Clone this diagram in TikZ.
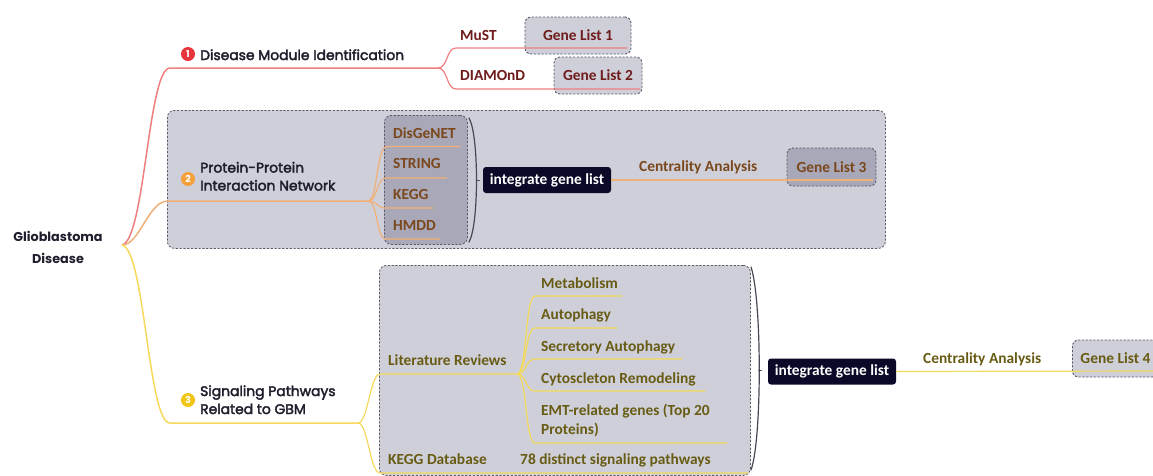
\documentclass[tikz,border=0pt]{standalone}
\usepackage{fontspec}
\setmainfont{Carlito}
\newfontfamily\topicfam[FakeBold=2.6]{Poppins}
\newfontfamily\rootfam{Poppins}
\usetikzlibrary{calc}

\definecolor{redln}{RGB}{240,128,128}
\definecolor{orgln}{RGB}{241,176,120}
\definecolor{yelln}{RGB}{246,218,92}
\definecolor{grpfill}{RGB}{206,207,217}
\definecolor{darkfill}{RGB}{168,168,184}
\definecolor{boxedge}{RGB}{90,90,105}
\definecolor{navyfill}{RGB}{10,10,40}
\definecolor{maroontxt}{RGB}{110,28,28}
\definecolor{browntxt}{RGB}{122,72,28}
\definecolor{olivetxt}{RGB}{104,92,20}
\definecolor{inktxt}{RGB}{30,30,45}
\definecolor{badgered}{RGB}{232,52,60}
\definecolor{badgeorg}{RGB}{245,160,58}
\definecolor{badgeyel}{RGB}{242,196,20}

\newcommand\mmleaf{\bfseries\fontsize{15.4}{19}\selectfont}
\newcommand\mmtopic{\topicfam\fontsize{13.9}{18}\selectfont}
\newcommand\mmroot{\rootfam\bfseries\fontsize{12.8}{21.5}\selectfont}

\begin{document}
\begin{tikzpicture}[x=1pt,y=-1pt,
  grp/.style={draw=boxedge, line width=0.8pt, dash pattern=on 2.2pt off 1.6pt,
    rounded corners=7pt, fill=grpfill, inner sep=0pt, anchor=north west},
  genebox/.style={draw=boxedge, line width=0.9pt, dash pattern=on 2.2pt off 1.6pt,
    rounded corners=6pt, inner sep=0pt, font=\mmleaf},
  intg/.style={fill=navyfill, rounded corners=3pt, text=white, font=\mmleaf,
    inner sep=0pt, minimum width=128pt, minimum height=26pt},
  badge/.style={circle, inner sep=0pt, minimum size=14pt, text=white,
    font=\rootfam\bfseries\fontsize{9.5}{9.5}\selectfont},
  leaf/.style={inner sep=0pt, anchor=base west, font=\mmleaf},
  topic/.style={inner sep=0pt, anchor=base west, font=\mmtopic, text=inktxt},
  redl/.style={draw=redln, line width=1.5pt},
  orgl/.style={draw=orgln, line width=1.5pt},
  yell/.style={draw=yelln, line width=1.5pt},
  brk/.style={draw=boxedge!80!black, line width=1.2pt, line cap=round},
]
\useasboundingbox (0,0) rectangle (1153,475);
\clip (0,0) rectangle (1153,475);
\fill[white] (0,0) rectangle (1153,475);

% group panels
\node[grp, minimum width=718pt, minimum height=138pt] (grpB) at (167,110) {};
\node[grp, minimum width=371pt, minimum height=210pt] (grpC) at (379,265) {};
\node[grp, fill=darkfill, minimum width=83pt, minimum height=129pt] (srcbox) at (384,115) {};

% gene list boxes
\node[genebox, fill=grpfill, text=maroontxt, minimum width=106pt, minimum height=37pt] (gl1) at (578,35.5) {Gene List 1};
\node[genebox, fill=grpfill, text=maroontxt, minimum width=88pt, minimum height=37pt] (gl2) at (598,75.5) {Gene List 2};
\node[genebox, fill=darkfill, text=browntxt, minimum width=89pt, minimum height=38pt] (gl3) at (831.5,167) {Gene List 3};
\node[genebox, fill=grpfill, text=olivetxt, minimum width=86pt, minimum height=37pt, anchor=west] (gl4) at (1072,358.5) {Gene List 4};

% integration boxes
\node[intg] (ig1) at (547,180) {integrate gene list};
\node[intg] (ig2) at (832,371.5) {integrate gene list};

% brackets
\coordinate (bk1a) at (469,118);
\coordinate (bk1b) at (469,242);
\coordinate (bk1t) at (476.5,180);
\draw[brk] (bk1a) .. controls (479,135) and (479,225) .. (bk1b);
\draw[brk, line width=0.9pt] (bk1t) -- ++(3,0);
\coordinate (bk2a) at (751,267);
\coordinate (bk2b) at (751,470);
\coordinate (bk2t) at (758.5,370);
\draw[brk] (bk2a) .. controls (762,300) and (762,440) .. (bk2b);
\draw[brk, line width=0.9pt] (bk2t) -- ++(3,0);

% branch hub
\coordinate (hub) at (122,245);

% branch 1
\coordinate (r0) at (170,68);
\coordinate (rf) at (438,68);
\coordinate (mustA) at (456,48);
\coordinate (mustB) at (627,48);
\coordinate (diaA) at (456,89);
\coordinate (diaB) at (640,89);
\draw[redl] (hub) .. controls (145,240) and (148,68) .. (r0) -- (rf);
\draw[redl, line width=1.2pt] (rf) .. controls (448,68) and (446,48) .. (mustA) -- (mustB);
\draw[redl, line width=1.2pt] (rf) .. controls (448,68) and (446,89) .. (diaA) -- (diaB);

% branch 2
\coordinate (o0) at (168,201);
\coordinate (of) at (368,201);
\coordinate (disA) at (387,146.5);
\coordinate (disB) at (460,146.5);
\coordinate (strA) at (386,178);
\coordinate (strB) at (447,178);
\coordinate (kegA) at (386,208);
\coordinate (kegB) at (433,208);
\coordinate (hmdA) at (386,239);
\coordinate (hmdB) at (440,239);
\coordinate (gl3end) at (873,180);
\draw[orgl] (hub) .. controls (140,245) and (148,201) .. (o0) -- (of);
\draw[orgl, line width=1.2pt] (of) .. controls (378,201) and (376,146.5) .. (disA) -- (disB);
\draw[orgl, line width=1.2pt] (of) .. controls (378,201) and (376,178) .. (strA) -- (strB);
\draw[orgl, line width=1.2pt] (of) .. controls (378,201) and (376,208) .. (kegA) -- (kegB);
\draw[orgl, line width=1.2pt] (of) .. controls (378,201) and (376,239) .. (hmdA) -- (hmdB);
\draw[orgl, line width=1.2pt] (ig1.east) -- (gl3end);

% branch 3
\coordinate (y0) at (170,423);
\coordinate (yf) at (358,423);
\coordinate (litA) at (380,374);
\coordinate (litF) at (517,374);
\coordinate (kdbA) at (380,473);
\coordinate (kdbB) at (748,473);
\coordinate (metA) at (535,296);
\coordinate (metB) at (622,296);
\coordinate (autA) at (535,328);
\coordinate (autB) at (617,328);
\coordinate (secA) at (535,359);
\coordinate (secB) at (682,359);
\coordinate (cytA) at (535,391);
\coordinate (cytB) at (705,391);
\coordinate (emtA) at (535,443);
\coordinate (emtB) at (727,443);
\coordinate (gl4end) at (1153,371);
\draw[yell] (hub) .. controls (145,250) and (148,423) .. (y0) -- (yf);
\draw[yell, line width=1.2pt] (yf) .. controls (368,423) and (370,374) .. (litA) -- (litF);
\draw[yell, line width=1.2pt] (yf) .. controls (368,423) and (370,473) .. (kdbA) -- (kdbB);
\draw[yell, line width=1.2pt] (litF) .. controls (527,374) and (525,296) .. (metA) -- (metB);
\draw[yell, line width=1.2pt] (litF) .. controls (527,374) and (525,328) .. (autA) -- (autB);
\draw[yell, line width=1.2pt] (litF) .. controls (527,374) and (525,359) .. (secA) -- (secB);
\draw[yell, line width=1.2pt] (litF) .. controls (527,374) and (525,391) .. (cytA) -- (cytB);
\draw[yell, line width=1.2pt] (litF) .. controls (527,374) and (525,443) .. (emtA) -- (emtB);
\draw[yell, line width=1.2pt] (ig2.east) -- (gl4end);

% root and main topics
\node[inner sep=0pt, anchor=base, font=\mmroot, text=inktxt] (root) at (58,241.5)
  {\begin{tabular}[t]{@{}c@{}}Glioblastoma\\Disease\end{tabular}};
\node[badge, fill=badgered] (b1) at (188,54) {1};
\node[badge, fill=badgeorg] (b2) at (188,179) {2};
\node[badge, fill=badgeyel] (b3) at (188,400) {3};
\node[topic] (t1) at (200,60) {Disease Module Identification};
\node[topic] (t2) at (200,172.5) {\begin{tabular}[t]{@{}l@{}}Protein-Protein\\Interaction Network\end{tabular}};
\node[topic] (t3) at (200,396) {\begin{tabular}[t]{@{}l@{}}Signaling Pathways\\Related to GBM\end{tabular}};

% branch 1 leaves
\node[leaf, text=maroontxt] (must) at (460,40) {MuST};
\node[leaf, text=maroontxt] (diamond) at (460,80) {DIAMOnD};

% branch 2 leaves
\node[leaf, text=browntxt] (disgenet) at (393,138) {DisGeNET};
\node[leaf, text=browntxt] (string) at (393,168.5) {STRING};
\node[leaf, text=browntxt] (kegg) at (393,199) {KEGG};
\node[leaf, text=browntxt] (hmdd) at (393,230) {HMDD};
\node[leaf, text=browntxt] (cent1) at (639,171) {Centrality Analysis};

% branch 3 leaves
\node[leaf, text=olivetxt] (lit) at (388,365) {Literature Reviews};
\node[leaf, text=olivetxt] (metab) at (541,288) {Metabolism};
\node[leaf, text=olivetxt] (autoph) at (541,319) {Autophagy};
\node[leaf, text=olivetxt] (secaut) at (541,351) {Secretory Autophagy};
\node[leaf, text=olivetxt] (cyto) at (541,383) {Cytoscleton Remodeling};
\node[leaf, text=olivetxt] (emt) at (541,415) {\begin{tabular}[t]{@{}l@{}}EMT-related genes (Top 20\\Proteins)\end{tabular}};
\node[leaf, text=olivetxt] (keggdb) at (388,464) {KEGG Database};
\node[leaf, text=olivetxt] (paths) at (520,464) {78 distinct signaling pathways};
\node[leaf, text=olivetxt] (cent2) at (923,363) {Centrality Analysis};
\end{tikzpicture}
\end{document}
